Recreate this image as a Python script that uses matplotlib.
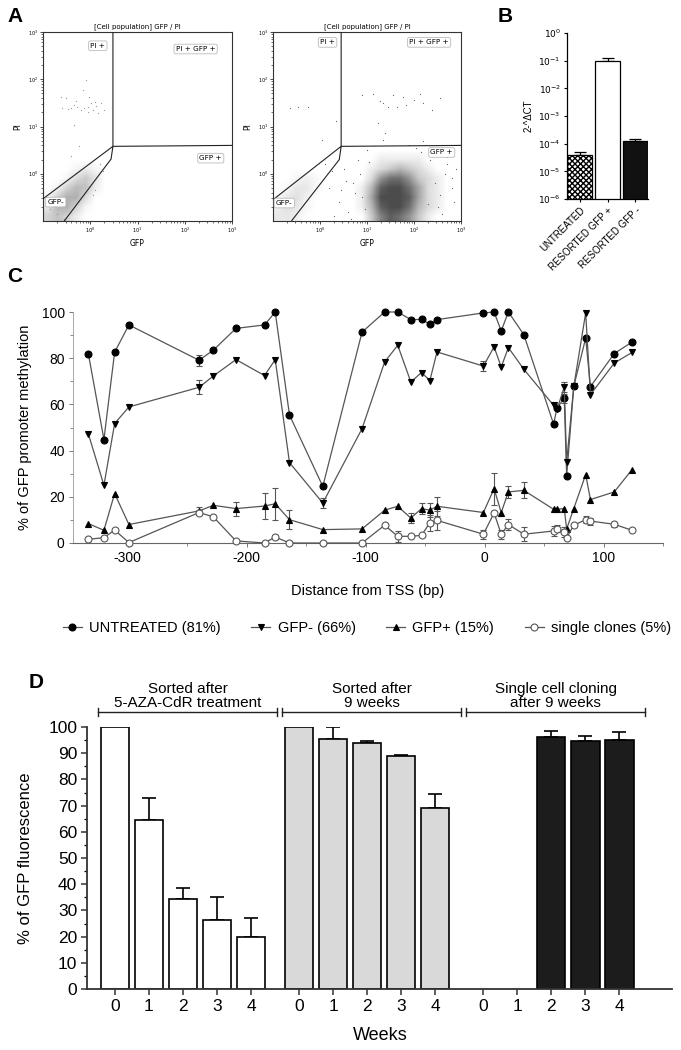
import numpy as np
import matplotlib
matplotlib.use("Agg")
import matplotlib.pyplot as plt
from matplotlib.colors import LinearSegmentedColormap
from matplotlib.lines import Line2D

plt.rcParams["font.family"] = ["Liberation Sans", "DejaVu Sans"]
plt.rcParams["axes.unicode_minus"] = False

W, H = 681, 1050

# ---------------- A : flow cytometry, values in log10 units ----------------
A_TITLE = "[Cell population] GFP / PI"
A_TICKS = [0, 1, 2, 3]
A_TICKLABELS = [r"$10^{0}$", r"$10^{1}$", r"$10^{2}$", r"$10^{3}$"]

# density cells (rows = PI bottom->top, cols = GFP left->right)
A1_NEG_X = [-0.9, -0.7, -0.5, -0.3, -0.1, 0.1, 0.3]
A1_NEG_Y = [-0.9, -0.7, -0.5, -0.3, -0.1, 0.1, 0.3]
A1_NEG = [[5, 7, 5, 2, 0, 0, 0],
          [3, 8, 9, 5, 1, 0, 0],
          [1, 5, 9, 9, 4, 0, 0],
          [0, 1, 5, 8, 7, 2, 0],
          [0, 0, 1, 4, 6, 3, 0],
          [0, 0, 0, 1, 2, 1, 0],
          [0, 0, 0, 0, 0, 0, 0]]
A1_PTS_X = [-0.62, -0.52, -0.41, -0.27, -0.20, -0.13, -0.09, -0.04, 0.01, 0.05, 0.12,
            0.16, -0.48, -0.16, -0.02, -0.34, -0.23, -0.41, 0.05, 0.09, 0.23, 0.30,
            -0.35, -0.05, 0.10, -0.30, -0.60, 0.20, 0.28, -0.55, -0.70, -0.85]
A1_PTS_Y = [1.63, 1.60, 1.39, 1.41, 1.35, 1.39, 1.99, 1.42, 1.49, 1.35, 1.44,
            1.28, 1.37, 1.78, 1.63, 1.04, 0.58, 0.37, -0.44, -0.34, 1.49, 1.35,
            1.45, 1.30, 1.52, 1.55, 1.40, 0.20, 0.05, -0.95, -0.85, -0.75]
A1_GATES = [([0.48, 0.48, 3.0], [3.0, 0.58, 0.60]),
            ([-1.0, 0.48, 0.44, -0.55], [-0.53, 0.58, 0.31, -1.0])]
A1_LABELS = [("PI +", 0.16, 2.71), ("PI + GFP +", 2.23, 2.64),
             ("GFP +", 2.55, 0.33), ("GFP-", -0.73, -0.60)]

A2_NEG_X = [-0.9, -0.7, -0.5, -0.3, -0.1, 0.1]
A2_NEG_Y = [-0.9, -0.7, -0.5, -0.3, -0.1, 0.1]
A2_NEG = [[3, 3, 2, 0, 0, 0],
          [2, 4, 3, 1, 0, 0],
          [1, 3, 4, 2, 0, 0],
          [0, 1, 3, 3, 1, 0],
          [0, 0, 1, 2, 1, 0],
          [0, 0, 0, 0, 0, 0]]
A2_POS_X = [0.7, 0.9, 1.1, 1.3, 1.5, 1.7, 1.9, 2.1, 2.3, 2.5, 2.7]
A2_POS_Y = [-0.9, -0.7, -0.5, -0.3, -0.1, 0.1, 0.3, 0.5]
A2_POS = [[0, 0, 3, 7, 9, 8, 6, 3, 1, 0, 0],
          [0, 1, 4, 9, 10, 10, 8, 4, 2, 1, 0],
          [0, 1, 5, 10, 10, 10, 9, 5, 2, 1, 0],
          [0, 1, 4, 9, 10, 10, 8, 5, 2, 1, 0],
          [0, 0, 2, 6, 8, 8, 6, 3, 2, 1, 0],
          [0, 0, 1, 2, 3, 4, 3, 2, 1, 0, 0],
          [0, 0, 0, 1, 1, 1, 1, 1, 0, 0, 0],
          [0, 0, 0, 0, 0, 0, 0, 0, 0, 0, 0]]
A2_PTS_X = [0.89, 1.13, 1.28, 1.35, 1.45, 1.56, 1.63, 1.77, 1.84, 1.99, 2.13, 2.20,
            2.38, 2.55, 1.24, 1.38, 1.35, -0.64, -0.46, -0.25, 0.35, 0.04,
            0.2, 0.4, 0.5, 0.6, 0.7, 0.8, 0.3, 0.9, 2.7, 2.8, 2.6, 2.9, 2.5, 2.75,
            0.1, 0.45, 1.0, 2.2, 2.4, 0.65, 0.25, 2.85, 2.45, 2.55, 2.65, 2.35, 2.6,
            2.3, 2.7, 0.85, 0.95, 0.75, 1.05, 0.55, 2.15, 2.05, 1.9, 2.8]
A2_PTS_Y = [1.67, 1.68, 1.53, 1.49, 1.42, 1.67, 1.42, 1.63, 1.46, 1.56, 1.68, 1.49,
            1.35, 1.61, 1.07, 0.86, 0.72, 1.40, 1.41, 1.42, 1.11, 0.72,
            -0.3, -0.6, 0.1, -0.8, -0.2, 0.3, -0.9, -0.5, 0.2, -0.3, 0.6, 0.1, -0.7, 0.55,
            0.2, -0.35, 0.5, 0.7, 0.4, -0.95, 0.05, -0.6, -0.2, -0.45, 0.0, 0.3, -0.85,
            -0.65, 0.35, 0.0, -0.75, -0.4, 0.25, -0.15, 0.45, 0.55, 0.6, -0.1]
A2_GATES = [([0.45, 0.45, 3.0], [3.0, 0.58, 0.60]),
            ([-1.0, 0.45, 0.41, -0.60], [-0.55, 0.58, 0.30, -0.99])]
A2_LABELS = [("PI +", 0.16, 2.78), ("PI + GFP +", 2.32, 2.78),
             ("GFP +", 2.59, 0.45), ("GFP-", -0.76, -0.62)]

# ---------------- B : qPCR ----------------
B_CATS = ["UNTREATED", "RESORTED GFP +", "RESORTED GFP -"]
B_VALS = [4.0e-5, 1.0e-1, 1.2e-4]
B_ERR = [1.0e-5, 3.0e-2, 3.0e-5]

# ---------------- C : promoter methylation ----------------
C_POS = [-333, -320, -311, -299, -240, -228, -209, -185, -176, -164, -136, -103, -84, -73,
         -62, -53, -46, -40, -1, 8, 14, 20, 33, 58, 61, 67, 69, 75, 85, 89, 109, 124]
C_UNTREATED = [81.7, 44.8, 82.6, 94.4, 79.1, 83.5, 92.9, 94.4, 100, 55.4, 24.5, 91.3, 100, 100,
               96.7, 96.8, 94.7, 96.7, 99.6, 100, 91.8, 100, 90.2, 51.5, 58.6, 62.6, 29.0,
               67.8, 88.7, 67.7, 82.0, 87.0]
C_GFPNEG = [47.1, 25.0, 51.7, 58.9, 67.4, 72.3, 79.4, 72.5, 79.4, 34.8, 17.3, 49.5, 78.4, 85.6,
            69.7, 73.8, 70.3, 82.7, 76.6, 84.9, 76.2, 84.6, 75.2, 59.6, 58.0, 67.5, 35.1,
            67.8, 99.6, 64.2, 77.9, 82.5]
C_GFPPOS = [8.4, 5.5, 21.4, 8.0, 13.9, 16.3, 14.9, 16.0, 17.0, 10.1, 5.8, 6.1, 14.2, 15.9,
            10.8, 14.9, 14.2, 15.9, 13.2, 23.5, 13.2, 22.1, 22.8, 14.6, 14.6, 14.9, 6.1,
            14.9, 29.6, 18.8, 22.1, 31.8]
C_CLONES = [1.6, 2.3, 5.6, 0.2, 13.2, 11.3, 0.9, 0.0, 2.6, 0.0, 0.0, 0.0, 7.7, 2.9,
            2.9, 3.3, 8.8, 9.8, 3.8, 13.0, 3.8, 8.0, 3.8, 5.2, 6.1, 4.8, 2.3,
            7.7, 10.1, 9.5, 8.1, 5.5]
C_UNTREATED_ERR = [0, 0, 0, 0, 2.5, 0, 0, 0, 0, 0, 0, 0, 0, 0, 0, 0, 0, 0, 0, 0, 0, 0, 0,
                   0, 0, 2.0, 0, 0, 0, 0, 0, 0]
C_GFPNEG_ERR = [0, 0, 0, 0, 3.0, 0, 0, 0, 0, 0, 2.0, 0, 0, 0, 0, 0, 0, 0, 2.0, 0, 0, 0, 0,
                0, 0, 2.0, 0, 0, 0, 0, 0, 0]
C_GFPPOS_ERR = [0, 0, 0, 0, 1.5, 0, 3.0, 5.5, 7.0, 4.0, 0, 0, 0, 0, 2.0, 2.5, 3.0, 4.0, 0,
                7.0, 0, 2.5, 3.5, 0, 0, 0, 0, 0, 0, 0, 0, 0]
C_CLONES_ERR = [0, 0, 0, 0, 1.0, 0, 0, 0, 1.0, 0, 0, 0, 0, 2.5, 0, 0, 3.5, 4.0, 2.0, 0,
                2.0, 2.5, 3.0, 2.0, 1.5, 2.0, 0, 0, 1.5, 1.5, 1.0, 0]
C_LEGEND = ["UNTREATED (81%)", "GFP- (66%)", "GFP+ (15%)", "single clones (5%)"]

# ---------------- D : GFP fluorescence over weeks ----------------
D_WEEKS = [0, 1, 2, 3, 4]
D_GROUPS = ["Sorted after\n5-AZA-CdR treatment", "Sorted after\n9 weeks",
            "Single cell cloning\nafter 9 weeks"]
D_AZA = [100, 64.4, 34.2, 26.2, 19.9]
D_AZA_ERR = [0, 8.5, 4.3, 9.0, 7.3]
D_9W = [100, 95.6, 93.8, 89.1, 68.9]
D_9W_ERR = [0, 4.4, 0.9, 0.2, 5.7]
D_CLONE = [np.nan, np.nan, 96.0, 94.7, 95.2]
D_CLONE_ERR = [0, 0, 2.4, 2.0, 2.8]

fig = plt.figure(figsize=(W / 100, H / 100), dpi=100)


def add_ax(x0, y0, x1, y1):
    return fig.add_axes([x0 / W, 1 - y1 / H, (x1 - x0) / W, (y1 - y0) / H])


def ftext(x, y, s, **kw):
    fig.text(x / W, 1 - y / H, s, **kw)


def cmap_of(rgb):
    return LinearSegmentedColormap.from_list("c", [(*rgb, 0.0), (*rgb, 1.0)])


def grid(ax, xs, ys, dens, cmap):
    hx = (xs[1] - xs[0]) / 2
    hy = (ys[1] - ys[0]) / 2
    ax.imshow(np.array(dens, float), origin="lower", cmap=cmap, vmin=0, vmax=10,
              extent=(xs[0] - hx, xs[-1] + hx, ys[0] - hy, ys[-1] + hy),
              interpolation="bilinear", aspect="auto", zorder=1)


def facs(ax, px, py, pcol, gates, labels):
    ax.scatter(px, py, s=0.8, color=pcol, linewidths=0, zorder=2)
    for gx, gy in gates:
        ax.plot(gx, gy, color="#222", lw=0.8, zorder=3)
    for s, x, y in labels:
        ax.text(x, y, s, fontsize=5.2, family="DejaVu Sans", ha="center", va="center", zorder=4,
                bbox=dict(boxstyle="round,pad=0.25", fc="white", ec="#bbbbbb", lw=0.6))
    ax.set_xlim(-1, 3)
    ax.set_ylim(-1, 3)
    minor = [d + np.log10(k) for d in (-1, 0, 1, 2) for k in range(2, 10)]
    ax.set_xticks(A_TICKS)
    ax.set_xticklabels(A_TICKLABELS, fontsize=3.5, family="DejaVu Sans")
    ax.set_yticks(A_TICKS)
    ax.set_yticklabels(A_TICKLABELS, fontsize=3.5, family="DejaVu Sans")
    ax.set_xticks(minor, minor=True)
    ax.set_yticks(minor, minor=True)
    ax.tick_params(length=2, width=0.5, pad=1.5)
    ax.tick_params(which="minor", length=1.2, width=0.4)
    for sp in ax.spines.values():
        sp.set_linewidth(0.8)
        sp.set_color("#333")
    ax.set_title(A_TITLE, fontsize=5, family="DejaVu Sans", pad=3)
    ax.set_xlabel("GFP", fontsize=5.5, family="DejaVu Sans", labelpad=3)
    ax.set_ylabel("PI", fontsize=5.5, family="DejaVu Sans", labelpad=4)


# ---- A
axA1 = add_ax(43, 32, 232, 221)
grid(axA1, A1_NEG_X, A1_NEG_Y, A1_NEG, cmap_of((0.66, 0.66, 0.66)))
facs(axA1, A1_PTS_X, A1_PTS_Y, "#999999", A1_GATES, A1_LABELS)

axA2 = add_ax(273, 32, 461, 221)
grid(axA2, A2_NEG_X, A2_NEG_Y, A2_NEG, cmap_of((0.70, 0.70, 0.70)))
grid(axA2, A2_POS_X, A2_POS_Y, A2_POS, cmap_of((0.30, 0.30, 0.30)))
facs(axA2, A2_PTS_X, A2_PTS_Y, "#666666", A2_GATES, A2_LABELS)

# ---- B
axB = add_ax(567, 33, 648, 199)
xb = np.arange(len(B_CATS))
axB.bar(xb, B_VALS, width=0.88, color=["white", "white", "#111"], edgecolor="black",
        linewidth=0.9, hatch=["xxxxxx", "", ""], zorder=2)
axB.errorbar(xb, B_VALS, yerr=[[0] * 3, B_ERR], fmt="none", ecolor="black",
             elinewidth=0.9, capsize=4, capthick=0.9, zorder=1)
axB.set_yscale("log")
axB.set_ylim(1e-6, 1)
axB.set_xlim(-0.45, 2.45)
axB.set_yticks([1e-6, 1e-5, 1e-4, 1e-3, 1e-2, 1e-1, 1])
axB.set_yticklabels([r"$10^{-6}$", r"$10^{-5}$", r"$10^{-4}$", r"$10^{-3}$",
                     r"$10^{-2}$", r"$10^{-1}$", r"$10^{0}$"], fontsize=6.5)
axB.yaxis.set_minor_locator(matplotlib.ticker.NullLocator())
axB.set_xticks(xb)
axB.set_xticklabels(B_CATS, rotation=45, ha="right", rotation_mode="anchor", fontsize=7)
axB.tick_params(length=2.5, width=0.8, pad=2)
axB.spines[["top", "right"]].set_visible(False)
for sp in ("left", "bottom"):
    axB.spines[sp].set_linewidth(0.9)
axB.set_ylabel("2-^ΔCT", fontsize=7, labelpad=3)

# ---- C
axC = add_ax(73, 312, 663, 543)
series = [(C_UNTREATED, C_UNTREATED_ERR, "o", "black", "black"),
          (C_GFPNEG, C_GFPNEG_ERR, "v", "black", "black"),
          (C_GFPPOS, C_GFPPOS_ERR, "^", "black", "black"),
          (C_CLONES, C_CLONES_ERR, "o", "white", "#555555")]
handles = []
for vals, err, m, fc, ec in series:
    idx = [i for i, e in enumerate(err) if e > 0]
    axC.errorbar([C_POS[i] for i in idx], [vals[i] for i in idx], yerr=[err[i] for i in idx],
                 fmt="none", ecolor="#555", elinewidth=0.8, capsize=2.5, capthick=0.8,
                 zorder=2, clip_on=False)
    axC.plot(C_POS, vals, color="#555", lw=0.9, marker=m, ms=5, mfc=fc, mec=ec, mew=0.8,
             zorder=3, clip_on=False)
    handles.append(Line2D([], [], color="#555", lw=0.9, marker=m, ms=5, mfc=fc, mec=ec, mew=0.8))
axC.set_xlim(-346, 150)
axC.set_ylim(0, 100)
axC.set_xticks([-300, -200, -100, 0, 100])
axC.set_xticks([-250, -150, -50, 50, 150], minor=True)
axC.set_yticks([0, 20, 40, 60, 80, 100])
axC.set_yticks([10, 30, 50, 70, 90], minor=True)
axC.tick_params(labelsize=10, length=3, width=0.7, color="#777", pad=3)
axC.tick_params(which="minor", length=2, width=0.6, color="#777")
axC.spines[["top", "right"]].set_visible(False)
axC.spines["left"].set_color("#999")
axC.spines["left"].set_linewidth(0.6)
axC.spines["bottom"].set_color("#666")
axC.spines["bottom"].set_linewidth(0.8)
ftext(25, 427, "% of GFP promoter methylation", rotation=90, ha="center", va="center",
      fontsize=10.5)
ftext(368, 591, "Distance from TSS (bp)", ha="center", va="center", fontsize=10.5)
fig.legend(handles, C_LEGEND, loc="center", bbox_to_anchor=(367 / W, 1 - 628 / H), ncol=4,
           frameon=False, fontsize=10.5, handlelength=1.3, handletextpad=0.5,
           columnspacing=2.1)

# ---- D
axD = add_ax(87, 727, 672, 989)
GSTEP = 5.41
colors = ["white", "#d9d9d9", "#1c1c1c"]
ticks, ticklabels = [], []
for g, (vals, err) in enumerate([(D_AZA, D_AZA_ERR), (D_9W, D_9W_ERR), (D_CLONE, D_CLONE_ERR)]):
    xs = [g * GSTEP + w for w in D_WEEKS]
    ticks += xs
    ticklabels += [str(w) for w in D_WEEKS]
    keep = [i for i, v in enumerate(vals) if not np.isnan(v)]
    bx = [xs[i] for i in keep]
    bv = [vals[i] for i in keep]
    axD.bar(bx, bv, width=0.84, color=colors[g], edgecolor="black", linewidth=1.2, zorder=2)
    ek = [i for i in keep if err[i] > 0]
    axD.errorbar([xs[i] for i in ek], [vals[i] for i in ek],
                 yerr=[[0] * len(ek), [err[i] for i in ek]], fmt="none", ecolor="black",
                 elinewidth=1.2, capsize=5, capthick=1.2, zorder=1)
    # group bracket and title
    x0, x1 = xs[0] - 0.5, xs[-1] + 0.77
    axD.plot([x0, x1], [105.7, 105.7], color="#222", lw=1.0, clip_on=False)
    for xe in (x0, x1):
        axD.plot([xe, xe], [104.3, 107.1], color="#222", lw=1.0, clip_on=False)
    axD.text((x0 + x1) / 2, 106.3, D_GROUPS[g], ha="center", va="bottom", fontsize=11,
             linespacing=1.0)
axD.set_xlim(-0.82, 16.37)
axD.set_ylim(0, 100)
axD.set_xticks(ticks)
axD.set_xticklabels(ticklabels)
axD.set_yticks(range(0, 101, 10))
axD.set_yticks(range(5, 100, 10), minor=True)
axD.tick_params(labelsize=12.5, length=4, width=1.1, color="#333", pad=3)
axD.tick_params(which="minor", length=2.5, width=0.9)
axD.spines[["top", "right"]].set_visible(False)
for sp in ("left", "bottom"):
    axD.spines[sp].set_linewidth(1.3)
    axD.spines[sp].set_color("#333")
ftext(26, 858, "% of GFP fluorescence", rotation=90, ha="center", va="center", fontsize=12)
ftext(380, 1035, "Weeks", ha="center", va="center", fontsize=13)

# panel letters
for s, x, y in [("A", 15, 17), ("B", 505, 17), ("C", 15, 276), ("D", 36, 682)]:
    ftext(x, y, s, fontsize=15, fontweight="bold", ha="center", va="center")

fig.savefig("out.png", dpi=100)
